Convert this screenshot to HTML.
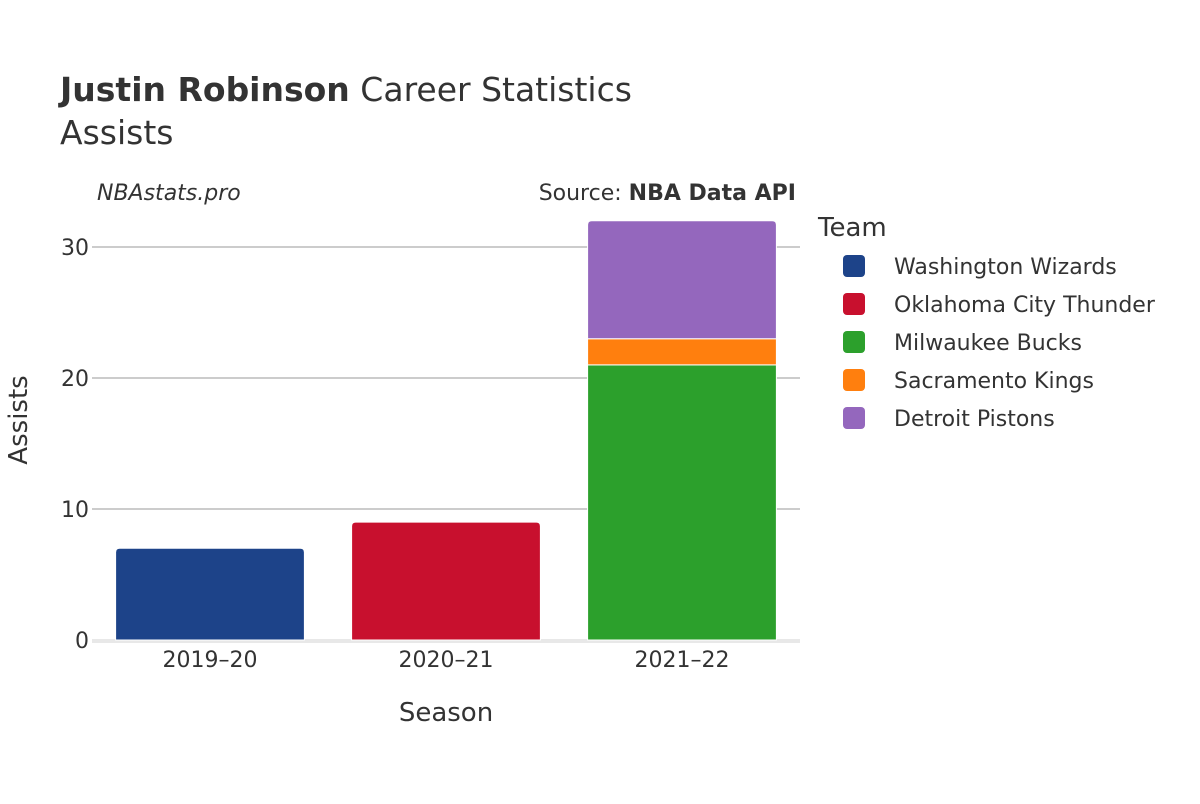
<!DOCTYPE html>
<html><head><meta charset="utf-8"><style>
body{margin:0;background:#fff;font-family:"DejaVu Sans","Liberation Sans",sans-serif;}
svg text{font-family:"DejaVu Sans","Liberation Sans",sans-serif;fill:#333;}
</style></head><body>
<svg id="chart" width="1200" height="800" xmlns="http://www.w3.org/2000/svg">
<text x="60" y="101" font-size="33"><tspan font-weight="bold">Justin Robinson</tspan> Career Statistics</text>
<text x="60" y="144" font-size="33">Assists</text>
<text x="97" y="200" font-size="22" font-style="italic">NBAstats.pro</text>
<text x="796" y="200" font-size="22" text-anchor="end">Source: <tspan font-weight="bold">NBA Data API</tspan></text>
<g id="grid"></g>
<g id="bars"></g>
<g id="xticks"></g>
<g id="yticks"></g>
<text x="446" y="721" font-size="26" text-anchor="middle">Season</text>
<text x="27" y="420" font-size="26" text-anchor="middle" transform="rotate(-90 27 420)">Assists</text>
<g id="legend">
<text x="818" y="236" font-size="26">Team</text>
</g>
</svg>
<script>
const seasons=["2019–20","2020–21","2021–22"];
const teams=["Washington Wizards","Oklahoma City Thunder","Milwaukee Bucks","Sacramento Kings","Detroit Pistons"];
const colors=["#1d4389","#c8102e","#2ca02c","#ff7f0e","#9467bd"];
const washington=[7,0,0];
const okc=[0,9,0];
const milwaukee=[0,0,21];
const sacramento=[0,0,2];
const detroit=[0,0,9];
const yTicks=[0,10,20,30];
const series=[washington,okc,milwaukee,sacramento,detroit];
const NS="http://www.w3.org/2000/svg";
const x0=92,x1=800,y0=640,pxPer=13.1;
const y=v=>y0-v*pxPer;
const band=(x1-x0)/seasons.length;
const bw=band*0.8;
function mk(tag,attrs,parent){const e=document.createElementNS(NS,tag);for(const k in attrs)e.setAttribute(k,attrs[k]);document.getElementById(parent).appendChild(e);return e;}
yTicks.forEach(t=>{
 if(t>0){const l=mk('line',{x1:x0,x2:x1,y1:y(t),y2:y(t),stroke:'#999','stroke-width':1},'grid');
 
 }
 const tx=mk('text',{x:x0-3,y:y(t)+8,'font-size':22,'text-anchor':'end'},'yticks');tx.textContent=t;
 
 
});
seasons.forEach((s,i)=>{
 const cx=x0+band*(i+0.5);
 let base=0;
 const stack=series.map((arr,k)=>({v:arr[i],k})).filter(d=>d.v>0);
 stack.forEach((d,j)=>{
  const top=base+d.v;
  const r=(j===stack.length-1)?4:0;
  const xl=cx-bw/2,yt=y(top),yb=y(base),w=bw;
  const p=mk('path',{d:`M${xl},${yb} L${xl},${yt+r} Q${xl},${yt} ${xl+r},${yt} L${xl+w-r},${yt} Q${xl+w},${yt} ${xl+w},${yt+r} L${xl+w},${yb} Z`,fill:colors[d.k],stroke:'#fff','stroke-width':1},'bars');
  
  
  base=top;
 });
 const tx=mk('text',{x:cx,y:y0+27,'font-size':22,'text-anchor':'middle'},'xticks');tx.textContent=s;
 
 
});
const zl=mk('line',{x1:x0,x2:x1,y1:y0+1,y2:y0+1,stroke:'#e8e8e8','stroke-width':4},'grid');


teams.forEach((t,k)=>{
 const yy=266+k*38;
 const r=mk('rect',{x:843,y:yy-11,width:22,height:22,rx:4,fill:colors[k]},'legend');
 
 
 const tx=mk('text',{x:894,y:yy+8,'font-size':22},'legend');tx.textContent=t;
 
 
});
</script>
</body></html>
